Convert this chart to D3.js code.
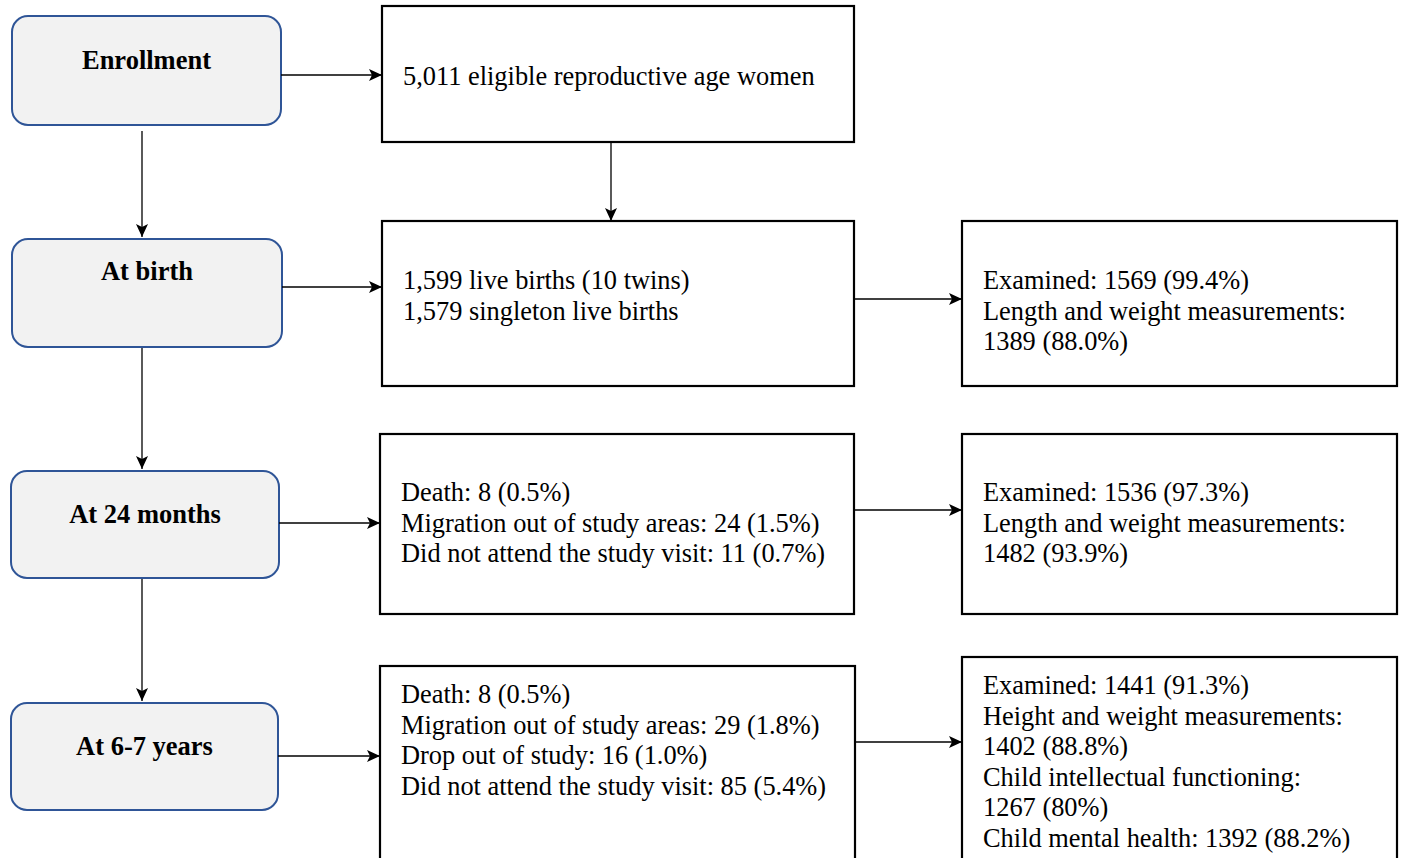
<!DOCTYPE html>
<html>
<head>
<meta charset="utf-8">
<script src="https://cdn.jsdelivr.net/npm/d3@7"></script>
<style>
  body { margin: 0; background: #fff; }
  svg { display: block; }
</style>
</head>
<body>
<svg id="chart"></svg>
<script>
// stage names (left column)
var stages = ["Enrollment", "At birth", "At 24 months", "At 6-7 years"];

// middle column text, one array per box
var midText = [
  ["5,011 eligible reproductive age women"],
  ["1,599 live births (10 twins)", "1,579 singleton live births"],
  ["Death: 8 (0.5%)", "Migration out of study areas: 24 (1.5%)", "Did not attend the study visit: 11 (0.7%)"],
  ["Death: 8 (0.5%)", "Migration out of study areas: 29 (1.8%)", "Drop out of study: 16 (1.0%)", "Did not attend the study visit: 85 (5.4%)"]
];

// right column text (none for enrollment)
var rightText = [
  null,
  ["Examined: 1569 (99.4%)", "Length and weight measurements:", "1389 (88.0%)"],
  ["Examined: 1536 (97.3%)", "Length and weight measurements:", "1482 (93.9%)"],
  ["Examined: 1441 (91.3%)", "Height and weight measurements:", "1402 (88.8%)", "Child intellectual functioning:", "1267 (80%)", "Child mental health: 1392 (88.2%)"]
];

var width = 1406, height = 858;
var svg = d3.select("#chart").attr("width", width).attr("height", height);

// layout boxes
var leftBox = [
  {x: 12, y: 16, w: 269, h: 109, ty: 60},
  {x: 12, y: 239, w: 270, h: 108, ty: 271},
  {x: 11, y: 471, w: 268, h: 107, ty: 514},
  {x: 11, y: 703, w: 267, h: 107, ty: 746}
];
var midBox = [
  {x: 382, y: 6, w: 472, h: 136, ty: 76, arrowY: 75},
  {x: 382, y: 221, w: 472, h: 165, ty: 280, arrowY: 287},
  {x: 380, y: 434, w: 474, h: 180, ty: 492, arrowY: 523},
  {x: 380, y: 666, w: 475, h: 200, ty: 694, arrowY: 756}
];
var rightBox = [
  null,
  {x: 962, y: 221, w: 435, h: 165, ty: 280, arrowY: 299},
  {x: 962, y: 434, w: 435, h: 180, ty: 492, arrowY: 510},
  {x: 962, y: 657, w: 435, h: 210, ty: 685, arrowY: 742}
];
var lineH = 30.6;
var fontSize = "26.4px";

var defs = svg.append("defs");
defs.append("marker")
  .attr("id", "arrow")
  .attr("viewBox", "0 0 13 12")
  .attr("refX", 13).attr("refY", 6)
  .attr("markerWidth", 13).attr("markerHeight", 12)
  .attr("markerUnits", "userSpaceOnUse")
  .attr("orient", "auto")
  .append("path")
  .attr("d", "M0,0 L13,6 L0,12 L3,6 Z")
  .attr("fill", "#000");

var serif = "'Liberation Serif', 'Times New Roman', serif";

// left rounded boxes
var left = svg.selectAll("g.stage")
  .data(stages)
  .enter()
  .append("g")
  .attr("class", "stage");

left.append("rect")
  .attr("x", function(d, i) { return leftBox[i].x; })
  .attr("y", function(d, i) { return leftBox[i].y; })
  .attr("width", function(d, i) { return leftBox[i].w; })
  .attr("height", function(d, i) { return leftBox[i].h; })
  .attr("rx", 16)
  .style("fill", "#f2f2f2")
  .style("stroke", "#2f5597")
  .style("stroke-width", 2);

left.append("text")
  .attr("x", function(d, i) { return leftBox[i].x + leftBox[i].w / 2; })
  .attr("y", function(d, i) { return leftBox[i].ty; })
  .attr("text-anchor", "middle")
  .attr("dominant-baseline", "central")
  .style("font-family", serif)
  .style("font-weight", "bold")
  .style("font-size", "26.5px")
  .text(function(d) { return d; });

// vertical arrows between stage boxes
var vlinks = [[131, 237], [348, 469], [579, 701]];
svg.selectAll("line.vlink")
  .data(vlinks)
  .enter()
  .append("line")
  .attr("class", "vlink")
  .attr("x1", 142).attr("x2", 142)
  .attr("y1", function(d) { return d[0]; })
  .attr("y2", function(d) { return d[1]; })
  .style("stroke", "#000").style("stroke-width", 1.3)
  .attr("marker-end", "url(#arrow)");

// stage -> middle arrows
svg.selectAll("line.lm")
  .data(stages)
  .enter()
  .append("line")
  .attr("class", "lm")
  .attr("x1", function(d, i) { return leftBox[i].x + leftBox[i].w; })
  .attr("x2", function(d, i) { return midBox[i].x; })
  .attr("y1", function(d, i) { return midBox[i].arrowY; })
  .attr("y2", function(d, i) { return midBox[i].arrowY; })
  .style("stroke", "#000").style("stroke-width", 1.3)
  .attr("marker-end", "url(#arrow)");

// middle boxes
var mid = svg.selectAll("g.mid")
  .data(midText)
  .enter()
  .append("g")
  .attr("class", "mid");

mid.append("rect")
  .attr("x", function(d, i) { return midBox[i].x; })
  .attr("y", function(d, i) { return midBox[i].y; })
  .attr("width", function(d, i) { return midBox[i].w; })
  .attr("height", function(d, i) { return midBox[i].h; })
  .style("fill", "#fff")
  .style("stroke", "#000")
  .style("stroke-width", 2.2);

mid.each(function(lines, i) {
  d3.select(this).selectAll("text")
    .data(lines)
    .enter()
    .append("text")
    .attr("x", midBox[i].x + 21)
    .attr("y", function(d, j) { return midBox[i].ty + j * lineH; })
    .attr("dominant-baseline", "central")
    .style("font-family", serif)
    .style("font-size", fontSize)
    .text(function(d) { return d; });
});

// enrollment box -> births box
svg.append("line")
  .attr("x1", 611).attr("x2", 611)
  .attr("y1", midBox[0].y + midBox[0].h)
  .attr("y2", midBox[1].y)
  .style("stroke", "#000").style("stroke-width", 1.3)
  .attr("marker-end", "url(#arrow)");

// middle -> right arrows and right boxes
var rightData = rightText.map(function(d, i) { return {lines: d, i: i}; })
  .filter(function(d) { return d.lines; });

svg.selectAll("line.mr")
  .data(rightData)
  .enter()
  .append("line")
  .attr("class", "mr")
  .attr("x1", function(d) { return midBox[d.i].x + midBox[d.i].w; })
  .attr("x2", function(d) { return rightBox[d.i].x; })
  .attr("y1", function(d) { return rightBox[d.i].arrowY; })
  .attr("y2", function(d) { return rightBox[d.i].arrowY; })
  .style("stroke", "#000").style("stroke-width", 1.3)
  .attr("marker-end", "url(#arrow)");

var right = svg.selectAll("g.right")
  .data(rightData)
  .enter()
  .append("g")
  .attr("class", "right");

right.append("rect")
  .attr("x", function(d) { return rightBox[d.i].x; })
  .attr("y", function(d) { return rightBox[d.i].y; })
  .attr("width", function(d) { return rightBox[d.i].w; })
  .attr("height", function(d) { return rightBox[d.i].h; })
  .style("fill", "#fff")
  .style("stroke", "#000")
  .style("stroke-width", 2.2);

right.each(function(d) {
  var b = rightBox[d.i];
  d3.select(this).selectAll("text")
    .data(d.lines)
    .enter()
    .append("text")
    .attr("x", b.x + 21)
    .attr("y", function(t, j) { return b.ty + j * lineH; })
    .attr("dominant-baseline", "central")
    .style("font-family", serif)
    .style("font-size", fontSize)
    .text(function(t) { return t; });
});
</script>
</body>
</html>
